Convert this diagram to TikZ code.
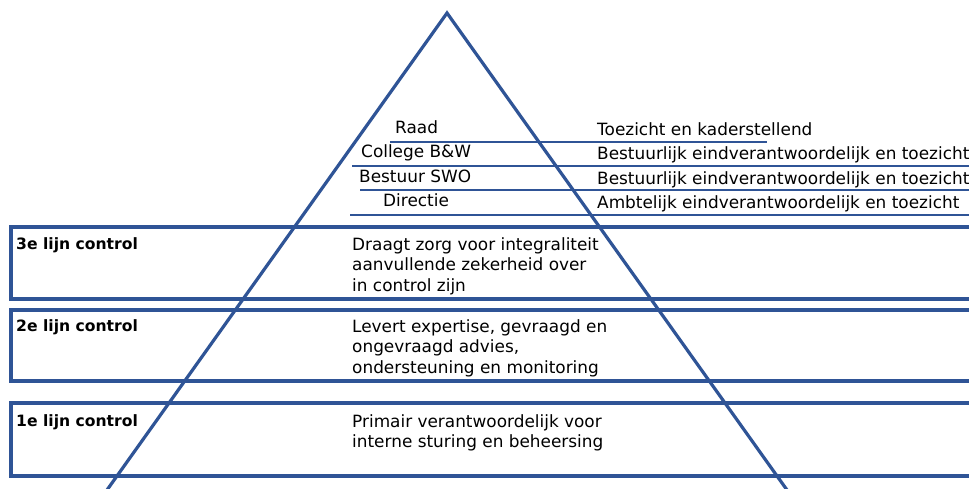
\documentclass[tikz,border=0pt]{standalone}
\usepackage{fontspec}
\setmainfont{DejaVu Sans}
\usetikzlibrary{positioning}
\definecolor{piramide}{RGB}{47,84,150}

\tikzset{
  laag/.style={draw=piramide, line width=3.2pt},
  scheiding/.style={draw=piramide, line width=1.2pt},
  kop/.style={anchor=base west, inner sep=0pt, font=\fontsize{15.6}{20}\selectfont\bfseries},
  uitleg/.style={anchor=north west, inner sep=0pt, align=left, font=\fontsize{16.9}{20.5}\selectfont},
  orgaan/.style={anchor=base west, inner sep=0pt, font=\fontsize{16.9}{15}\selectfont},
}

\begin{document}
\begin{tikzpicture}[x=1pt, y=-1pt]
  \clip (0,0) rectangle (969,489);
  \useasboundingbox (0,0) rectangle (969,489);

  % de drie lijnen
  \draw[laag] (11,227) rectangle (980,299);
  \draw[laag] (11,310) rectangle (980,381);
  \draw[laag] (11,403) rectangle (980,476);

  % piramide
  \coordinate (top) at (447,13);
  \coordinate (links) at (107,490);
  \coordinate (rechts) at (787,490);
  \draw[laag, line join=miter] (links) -- (top) -- (rechts);

  % scheidingslijnen bovenin
  \draw[scheiding] (390,142) -- (767,142);
  \draw[scheiding] (352,166) -- (975,166);
  \draw[scheiding] (360,190) -- (975,190);
  \draw[scheiding] (350,215) -- (975,215);

  \node[orgaan] (raad) at (395,134) {Raad};
  \node[orgaan] (college) at (361,158) {College B\&W};
  \node[orgaan] (bestuur) at (359,183) {Bestuur SWO};
  \node[orgaan] (directie) at (383,207) {Directie};

  \node[orgaan] (taakraad) at (597,136) {Toezicht en kaderstellend};
  \node[orgaan] (taakcollege) at (597,160) {Bestuurlijk eindverantwoordelijk en toezicht};
  \node[orgaan] (taakbestuur) at (597,185) {Bestuurlijk eindverantwoordelijk en toezicht};
  \node[orgaan] (taakdirectie) at (597,209) {Ambtelijk eindverantwoordelijk en toezicht};

  % teksten in de lagen
  \node[kop] (derde) at (16,249) {3e lijn control};
  \node[kop] (tweede) at (16,331) {2e lijn control};
  \node[kop] (eerste) at (16,426) {1e lijn control};

  \node[uitleg] (derdetekst) at (352,237) {Draagt zorg voor integraliteit\\aanvullende zekerheid over\\in control zijn};
  \node[uitleg] (tweedetekst) at (352,319) {Levert expertise, gevraagd en\\ongevraagd advies,\\ondersteuning en monitoring};
  \node[uitleg] (eerstetekst) at (352,414) {Primair verantwoordelijk voor\\interne sturing en beheersing};
\end{tikzpicture}
\end{document}
